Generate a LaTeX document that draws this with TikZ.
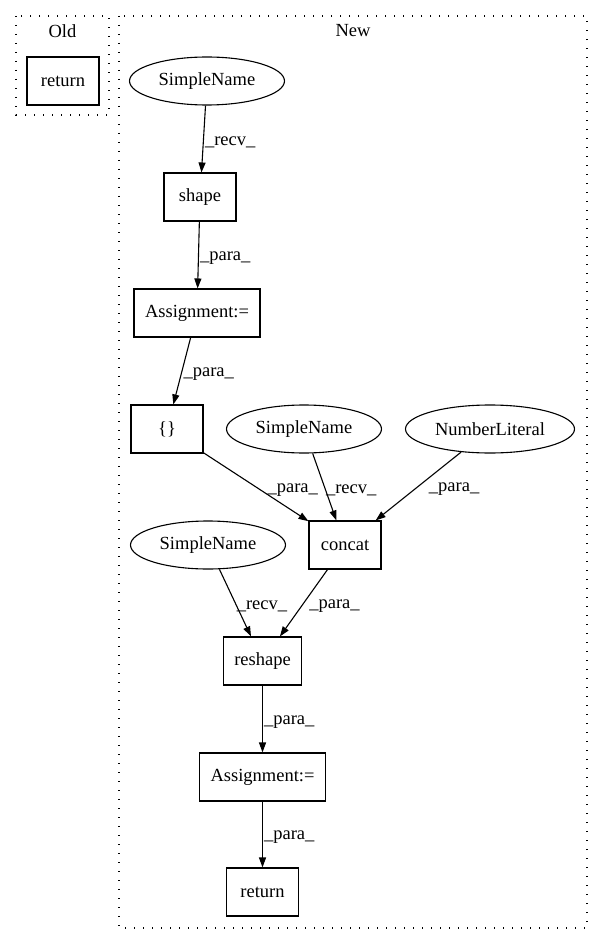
\documentclass[tikz,border=0pt]{standalone}
\usepackage{fontspec}
\setmainfont{Liberation Serif}
\usetikzlibrary{arrows.meta,shapes.geometric}

\begin{document}
\begin{tikzpicture}[x=1pt,y=-1pt,
    font=\fontsize{18.5}{22}\selectfont,
    box/.style={draw,line width=1.1pt,rectangle,minimum width=72pt,minimum height=48pt,inner xsep=11pt},
    ell/.style={draw,line width=1.1pt,ellipse,inner sep=0pt,minimum height=48pt},
    cluster/.style={draw,line width=1.3pt,dash pattern=on 1.3pt off 7.7pt},
    edge/.style={line width=1.1pt,-{Triangle[length=10pt,width=7pt]}},
    lbl/.style={anchor=west,inner sep=1pt,yshift=-3pt}]
          \useasboundingbox (0,0) rectangle (603,944);

          \draw[cluster] (16,16) rectangle (109,115);
          \draw[cluster] (119,16) rectangle (587,928);
          \node (old) at (62.5,31) {Old};
          \node (new) at (353,31) {New};

          \node[box] (oldret) at (63,81) {return};

          \node[ell,minimum width=155pt] (sn1) at (207,81) {SimpleName};
          \node[box] (shape) at (200,197) {shape};
          \node[box] (asg1) at (197,313) {Assignment:=};
          \node[box] (brace) at (167,429) {\{\}};
          \node[ell,minimum width=155pt] (sn2) at (304,429) {SimpleName};
          \node[ell,minimum width=169pt] (numlit) at (490,429) {NumberLiteral};
          \node[box] (concat) at (345,545) {concat};
          \node[ell,minimum width=155pt] (sn3) at (208,545) {SimpleName};
          \node[box] (reshape) at (262.5,661) {reshape};
          \node[box] (asg2) at (262.5,777) {Assignment:=};
          \node[box] (ret) at (262.5,892) {return};

          \draw[edge] (sn1) to node[lbl]{\_recv\_}(shape);
          \draw[edge] (shape) to node[lbl]{\_para\_}(asg1);
          \draw[edge] (asg1) to node[lbl]{\_para\_}(brace);
          \draw[edge] (brace) to node[lbl,xshift=10pt]{\_para\_}(concat);
          \draw[edge] (sn2) to node[lbl]{\_recv\_}(concat);
          \draw[edge] (numlit) to node[lbl,xshift=9pt]{\_para\_}(concat);
          \draw[edge] (sn3) to node[lbl]{\_recv\_}(reshape);
          \draw[edge] (concat) to node[lbl,xshift=4pt]{\_para\_}(reshape);
          \draw[edge] (reshape) to node[lbl]{\_para\_}(asg2);
          \draw[edge] (asg2) to node[lbl]{\_para\_}(ret);
        \end{tikzpicture}
\end{document}
